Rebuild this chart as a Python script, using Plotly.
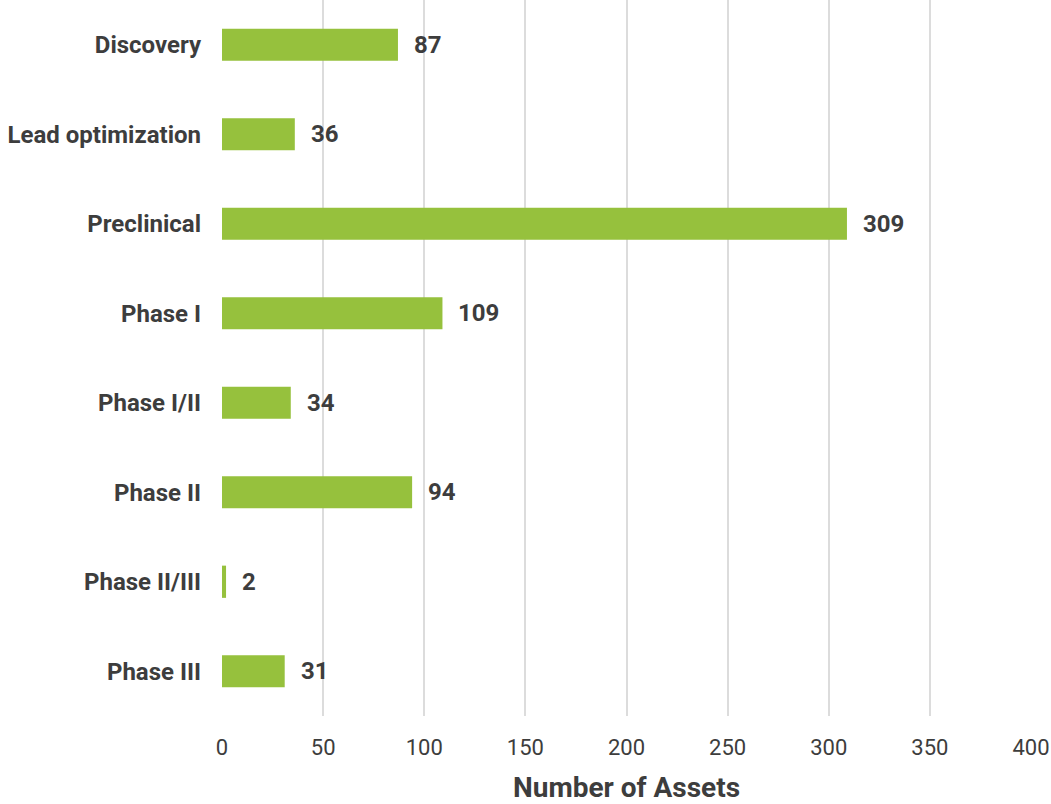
import plotly.graph_objects as go

categories = ["Discovery", "Lead optimization", "Preclinical", "Phase I",
              "Phase I/II", "Phase II", "Phase II/III", "Phase III"]
values = [87, 36, 309, 109, 34, 94, 2, 31]
x_ticks = [0, 50, 100, 150, 200, 250, 300, 350, 400]

bar_color = "#96c13d"
text_color = "#3d3d3d"

fig = go.Figure(go.Bar(
    y=categories, x=values, orientation="h",
    marker=dict(color=bar_color, line=dict(width=0)),
    width=0.36,
))

for c, v in zip(categories, values):
    fig.add_annotation(x=v, y=c, text=f"<b>{v}</b>", showarrow=False,
                       xanchor="left", xshift=14,
                       font=dict(family="Roboto", size=24, color=text_color))

fig.update_layout(
    width=1051, height=804,
    margin=dict(l=222, r=20, t=0, b=88),
    plot_bgcolor="white", paper_bgcolor="white",
    showlegend=False,
    font=dict(family="Roboto", color=text_color),
    xaxis=dict(
        range=[0, 400], tickvals=x_ticks, showgrid=True,
        gridcolor="#dcdcdc", gridwidth=2, zeroline=False,
        ticks="", ticklabelstandoff=16, automargin=False,
        tickfont=dict(family="Roboto", size=22, color=text_color),
        title=dict(text="<b>Number of Assets</b>",
                   font=dict(family="Roboto", size=28, color=text_color),
                   standoff=36),
        showline=False, fixedrange=True,
    ),
    yaxis=dict(
        categoryorder="array", categoryarray=categories,
        autorange="reversed", showgrid=False, zeroline=False,
        ticks="", ticklabelstandoff=20,
        tickfont=dict(family="Roboto", size=24, color=text_color),
        tickprefix="<b>", ticksuffix="</b>",
        showline=False,
    ),
)

fig.write_html("out.html", config={"displayModeBar": False},
               post_script="document.body.style.margin='0';")
